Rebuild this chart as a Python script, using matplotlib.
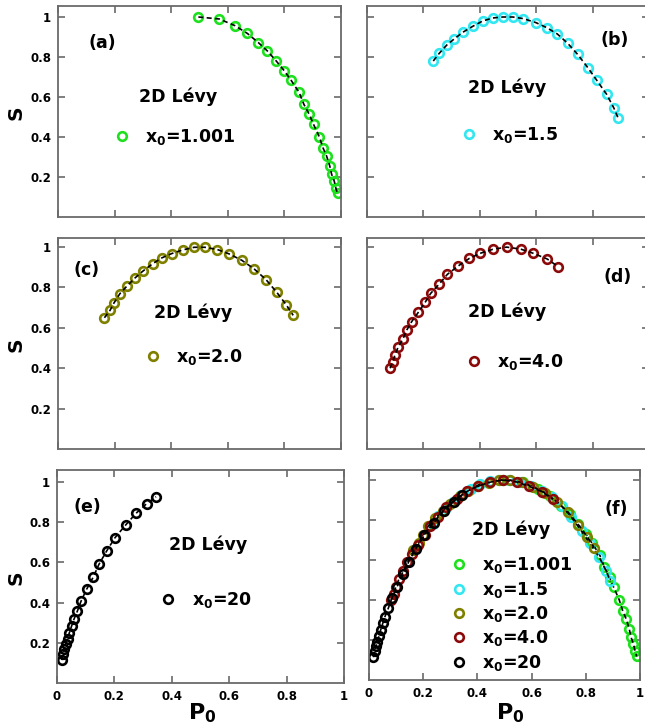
import matplotlib.pyplot as plt

plt.rcParams['font.family'] = 'DejaVu Sans'
plt.rcParams['mathtext.fontset'] = 'dejavusans'

# P0 / S values for each initial condition x0
p0_1001 = [0.496, 0.570, 0.625, 0.669, 0.708, 0.740, 0.770, 0.799, 0.823, 0.852, 0.869,
           0.888, 0.903, 0.923, 0.936, 0.949, 0.960, 0.967, 0.976, 0.982, 0.988]
s_1001 = [1.0, 0.99, 0.957, 0.918, 0.872, 0.83, 0.782, 0.732, 0.685, 0.623, 0.563,
          0.513, 0.463, 0.402, 0.347, 0.305, 0.257, 0.213, 0.18, 0.143, 0.118]

p0_15 = [0.235, 0.256, 0.283, 0.309, 0.339, 0.377, 0.41, 0.446, 0.481, 0.517, 0.554,
         0.599, 0.637, 0.675, 0.712, 0.747, 0.785, 0.814, 0.85, 0.876, 0.891]
s_15 = [0.78, 0.818, 0.86, 0.89, 0.923, 0.955, 0.98, 0.995, 1.0, 1.0, 0.992,
        0.972, 0.947, 0.915, 0.868, 0.813, 0.743, 0.685, 0.613, 0.543, 0.493]

p0_20 = [0.164, 0.184, 0.198, 0.219, 0.245, 0.272, 0.299, 0.335, 0.366, 0.402, 0.441,
         0.481, 0.519, 0.563, 0.605, 0.649, 0.693, 0.735, 0.773, 0.806, 0.831]
s_20 = [0.65, 0.687, 0.724, 0.77, 0.809, 0.847, 0.88, 0.918, 0.946, 0.968, 0.986,
        0.999, 0.999, 0.988, 0.966, 0.935, 0.892, 0.839, 0.776, 0.715, 0.662]

p0_40 = [0.082, 0.091, 0.099, 0.111, 0.127, 0.141, 0.158, 0.182, 0.206, 0.226, 0.256,
         0.285, 0.324, 0.363, 0.401, 0.446, 0.495, 0.545, 0.59, 0.639, 0.678]
s_40 = [0.40, 0.432, 0.465, 0.507, 0.543, 0.589, 0.63, 0.677, 0.726, 0.771, 0.817,
        0.865, 0.907, 0.944, 0.969, 0.989, 1.0, 0.99, 0.969, 0.941, 0.903]

p0_200 = [0.016, 0.022, 0.026, 0.030, 0.037, 0.043, 0.051, 0.059, 0.071, 0.084, 0.103,
          0.127, 0.146, 0.173, 0.202, 0.239, 0.275, 0.312, 0.345]
s_200 = [0.114, 0.143, 0.168, 0.192, 0.22, 0.25, 0.284, 0.317, 0.358, 0.408, 0.466,
         0.529, 0.59, 0.657, 0.723, 0.786, 0.844, 0.892, 0.927]

series = [
    (p0_1001, s_1001, '#1fe01f', '1.001'),
    (p0_15, s_15, '#33e6f0', '1.5'),
    (p0_20, s_20, '#7f7f00', '2.0'),
    (p0_40, s_40, '#8b0a0a', '4.0'),
    (p0_200, s_200, 'black', '20'),
]

xticks = [0, 0.2, 0.4, 0.6, 0.8, 1]
xticklabels = ['0', '0.2', '0.4', '0.6', '0.8', '1']
yticks = [0.2, 0.4, 0.6, 0.8, 1]
yticklabels = ['0.2', '0.4', '0.6', '0.8', '1']

W, H = 645, 727
fig = plt.figure(figsize=(W / 100, H / 100), dpi=100)


def px_axes(left, top, right, bottom):
    return fig.add_axes([left / W, (H - bottom) / H, (right - left) / W, (bottom - top) / H])


def draw_series(ax, x, y, color, label):
    ax.plot(x, y, 'o', ms=6.2, mfc='none', mec=color, mew=1.9,
            label=r'$\mathbf{x_0}$=' + label)
    ax.plot(x, y, color='black', lw=1.2, dashes=(3, 2))


def style(ax, ytop, left_labels, bottom_labels):
    ax.set_xlim(0, 1)
    ax.set_ylim(0, ytop)
    ax.set_xticks(xticks)
    ax.set_yticks(yticks)
    ax.set_xticklabels(xticklabels if bottom_labels else [])
    ax.set_yticklabels(yticklabels if left_labels else [])
    for sp in ax.spines.values():
        sp.set_color('#6a6a6a')
        sp.set_linewidth(1.3)
    ax.tick_params(direction='in', length=5, width=1.2, color='#6a6a6a',
                   top=True, right=True, labelsize=8.5, pad=5)
    for t in ax.get_xticklabels() + ax.get_yticklabels():
        t.set_fontweight('bold')


def annotate(ax, tag, tag_xy, levy_xy, leg_xy, spacing=0.3):
    ax.text(*tag_xy, tag, transform=ax.transAxes, ha='center', va='center',
            fontsize=12.5, fontweight='bold')
    ax.text(*levy_xy, '2D Lévy', transform=ax.transAxes, ha='center', va='center',
            fontsize=12.5, fontweight='bold')
    ax.legend(loc='center left', bbox_to_anchor=leg_xy, frameon=False, numpoints=1,
              handlelength=1.0, handletextpad=0.85, borderpad=0, borderaxespad=0,
              labelspacing=spacing, prop={'size': 12.5, 'weight': 'bold'})


ax_a = px_axes(58, 6, 341, 217)
ax_b = px_axes(367, 6, 649, 217)
ax_c = px_axes(58, 238, 341, 449)
ax_d = px_axes(367, 238, 649, 449)
ax_e = px_axes(57, 470, 344, 683)
ax_f = px_axes(369, 470, 640, 680)

single = [ax_a, ax_b, ax_c, ax_d, ax_e]
for ax, (x, y, c, lab) in zip(single, series):
    draw_series(ax, x, y, c, lab)
for x, y, c, lab in series:
    draw_series(ax_f, x, y, c, lab)

style(ax_a, 1.055, True, False)
style(ax_b, 1.055, False, False)
style(ax_c, 1.045, True, False)
style(ax_d, 1.045, False, False)
style(ax_e, 1.06, True, True)
style(ax_f, 1.05, False, True)

annotate(ax_a, '(a)', (0.155, 0.825), (0.424, 0.569), (0.195, 0.379))
annotate(ax_b, '(b)', (0.879, 0.839), (0.496, 0.611), (0.331, 0.389))
annotate(ax_c, '(c)', (0.102, 0.848), (0.477, 0.645), (0.305, 0.436))
annotate(ax_d, '(d)', (0.887, 0.815), (0.496, 0.649), (0.348, 0.412))
annotate(ax_e, '(e)', (0.105, 0.826), (0.526, 0.648), (0.357, 0.39))
annotate(ax_f, '(f)', (0.914, 0.816), (0.523, 0.714), (0.3, 0.314), spacing=0.25)

for yc in [113, 345, 578]:
    fig.text(16 / W, 1 - yc / H, 'S', rotation=90, ha='center', va='center',
             fontsize=14.5, fontweight='bold')
for xc in [202, 510]:
    fig.text(xc / W, 1 - 713 / H, r'$\mathbf{P_0}$', ha='center', va='center', fontsize=16)

fig.savefig('out.png', dpi=100)
